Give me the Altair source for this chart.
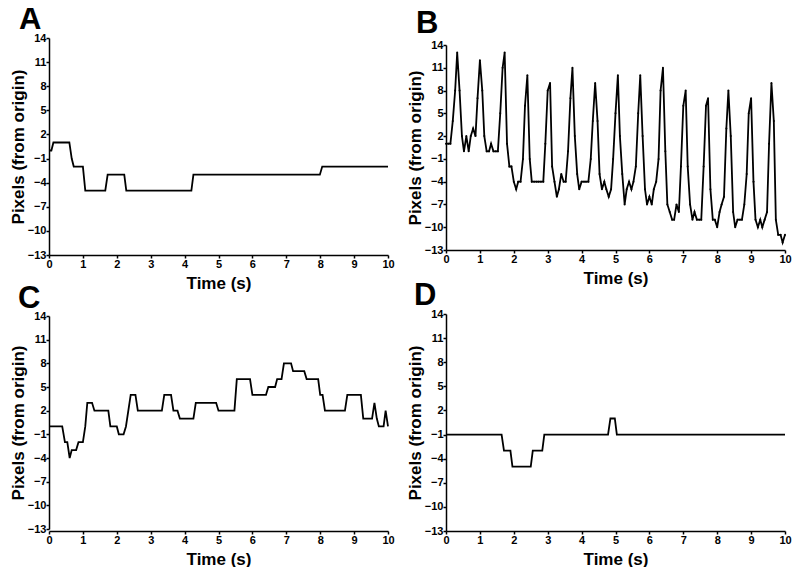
import altair as alt
import pandas as pd

FONT = "Liberation Sans"

x_ticks = [0, 1, 2, 3, 4, 5, 6, 7, 8, 9, 10]
y_ticks = [-13, -10, -7, -4, -1, 2, 5, 8, 11, 14]

# Panel A
a_time = [0, 0.07, 0.13, 0.6, 0.67, 0.73, 1.0, 1.07, 1.66, 1.73, 2.22, 2.28,
          4.2, 4.26, 7.99, 8.06, 10]
a_px = [0, 0, 1, 1, -1, -2, -2, -5, -5, -3, -3, -5, -5, -3, -3, -2, -2]

# Panel B (sampled every ~1/15 s)
b_time = [0, 0.07, 0.13, 0.2, 0.27, 0.33, 0.4, 0.47, 0.53, 0.6, 0.67, 0.73, 0.8, 0.87, 0.93,
          1.0, 1.07, 1.13, 1.2, 1.27, 1.33, 1.4, 1.47, 1.53, 1.6, 1.67, 1.73, 1.8, 1.87, 1.93,
          2.0, 2.07, 2.13, 2.2, 2.27, 2.33, 2.4, 2.47, 2.53, 2.6, 2.67, 2.73, 2.8, 2.87, 2.93,
          3.0, 3.07, 3.13, 3.2, 3.27, 3.33, 3.4, 3.47, 3.53, 3.6, 3.67, 3.73, 3.8, 3.87, 3.93,
          4.0, 4.07, 4.13, 4.2, 4.27, 4.33, 4.4, 4.47, 4.53, 4.6, 4.67, 4.73, 4.8, 4.87, 4.93,
          5.0, 5.07, 5.13, 5.2, 5.27, 5.33, 5.4, 5.47, 5.53, 5.6, 5.67, 5.73, 5.8, 5.87, 5.93,
          6.0, 6.07, 6.13, 6.2, 6.27, 6.33, 6.4, 6.47, 6.53, 6.6, 6.67, 6.73, 6.8, 6.87, 6.93,
          7.0, 7.07, 7.13, 7.2, 7.27, 7.33, 7.4, 7.47, 7.53, 7.6, 7.67, 7.73, 7.8, 7.87, 7.93,
          8.0, 8.07, 8.13, 8.2, 8.27, 8.33, 8.4, 8.47, 8.53, 8.6, 8.67, 8.73, 8.8, 8.87, 8.93,
          9.0, 9.07, 9.13, 9.2, 9.27, 9.33, 9.4, 9.47, 9.53, 9.6, 9.67, 9.73, 9.8, 9.87, 9.93,
          10.0]
b_px = [1, 1, 1, 4, 8, 13, 8, 2, 0, 2, 0, 2, 3, 2, 7,
        12, 8, 2, 0, 0, 1, 0, 0, 0, 5, 11, 13, 1, -2, -2,
        -4, -5, -4, -4, -1, 6, 10, -1, -4, -4, -4, -4, -4, -4, 1,
        8, 9, -2, -4, -6, -5, -3, -4, -4, 0, 7, 11, 2, -3, -5,
        -4, -4, -4, -4, -1, 4, 9, 4, -3, -5, -4, -5, -6, -5, -1,
        5, 10, 2, -3, -7, -5, -4, -5, -4, -2, 5, 10, 2, -5, -7,
        -6, -7, -5, -4, -1, 8, 11, 0, -7, -8, -9, -9, -7, -8, -2,
        6, 8, -2, -7, -9, -8, -9, -9, -9, -2, 6, 7, -5, -9, -9,
        -10, -8, -7, -6, 3, 8, 2, -8, -10, -9, -9, -9, -7, -3, 5,
        7, -4, -9, -10, -9, -10, -9, -8, 1, 9, 4, -9, -11, -11, -12,
        -11]

# Panel C
c_time = [0, 0.39, 0.47, 0.54, 0.61, 0.67, 0.8, 0.87, 1.0, 1.07,
          1.13, 1.27, 1.34, 1.75, 1.81, 2.0, 2.06, 2.2, 2.27, 2.41,
          2.55, 2.62, 3.33, 3.4, 3.6, 3.67, 3.79, 3.86, 4.26, 4.33,
          4.93, 5.0, 5.47, 5.54, 5.93, 6.0, 6.4, 6.47, 6.67, 6.73,
          6.86, 6.93, 7.14, 7.2, 7.53, 7.6, 7.94, 8.0, 8.07, 8.14,
          8.73, 8.8, 9.2, 9.27, 9.53, 9.6, 9.67, 9.73, 9.87, 9.93, 10.0]
c_px = [0, 0, -2, -2, -4, -3, -3, -2, -2, 0,
        3, 3, 2, 2, 0, 0, -1, -1, 0, 4,
        4, 2, 2, 4, 4, 2, 2, 1, 1, 3,
        3, 2, 2, 6, 6, 4, 4, 5, 5, 6,
        6, 8, 8, 7, 7, 6, 6, 4, 4, 2,
        2, 4, 4, 1, 1, 3, 1, 0, 0, 2, 0]

# Panel D
d_time = [0, 1.64, 1.71, 1.9, 1.96, 2.5, 2.56, 2.84, 2.9, 4.78, 4.85, 4.98, 5.04, 10]
d_px = [-1, -1, -3, -3, -5, -5, -3, -3, -1, -1, 1, 1, -1, -1]


def panel(letter, t, v, h, y_range, lx, ly, dots=False):
    df = pd.DataFrame({"t": t, "v": v})
    yscale = alt.Scale(domain=[-13, 14], nice=False, zero=False)
    if y_range is not None:
        yscale = alt.Scale(domain=[-13, 14], nice=False, zero=False, range=y_range)
    enc = dict(
        x=alt.X("t:Q", scale=alt.Scale(domain=[0, 10], nice=False),
                axis=alt.Axis(values=x_ticks, title="Time (s)", labelFlush=False,
                              labelOverlap=False)),
        y=alt.Y("v:Q", scale=yscale,
                axis=alt.Axis(values=y_ticks, title="Pixels (from origin)",
                              labelOverlap=False)),
    )
    line = alt.Chart(df).mark_line(color="black", strokeWidth=1.8).encode(**enc)
    layers = [line]
    if dots:
        layers.append(alt.Chart(df).mark_point(filled=True, color="black", size=4,
                                               opacity=1).encode(**enc))
    lbl = alt.Chart(pd.DataFrame({"lab": [letter]})).mark_text(
        align="left", baseline="alphabetic", fontSize=31, fontWeight="bold",
        font=FONT, color="black").encode(
        x=alt.value(lx), y=alt.value(ly), text="lab:N")
    layers.append(lbl)
    return alt.layer(*layers).properties(width=339, height=h)


pa = panel("A", a_time, a_px, 217, None, -30, -9)
pb = panel("B", b_time, b_px, 212, [212, 7], -30, -5, dots=True)
pc = panel("C", c_time, c_px, 217, [215, 2], -31, -6)
pd_ = panel("D", d_time, d_px, 217, None, -32, -9)

chart = alt.concat(pa, pb, pc, pd_, columns=2, spacing={"row": 59, "column": 58},
                   bounds="flush").properties(
    padding={"left": 1, "top": -4, "right": 0, "bottom": 0}
).configure_view(stroke=None).configure_axis(
    grid=False,
    domainColor="black", domainWidth=1.5,
    tickColor="black", tickWidth=1.5, tickSize=3,
    labelFont=FONT, labelFontSize=11, labelFontWeight="bold", labelColor="black",
    labelPadding=0,
    titleFont=FONT, titleFontSize=17, titleFontWeight="bold", titleColor="black",
).configure_axisY(titlePadding=0).configure_axisX(titlePadding=6)

chart.save("out.html", embed_options={"renderer": "svg", "actions": False})
